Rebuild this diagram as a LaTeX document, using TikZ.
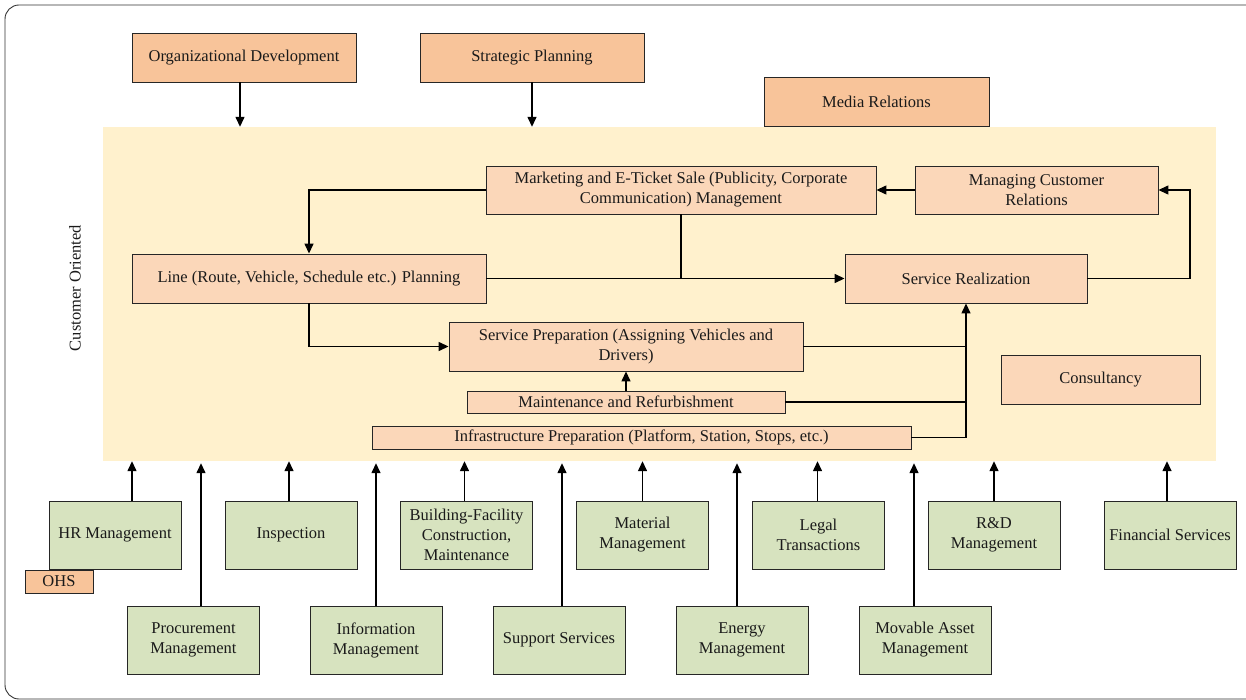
\documentclass[tikz,border=0pt]{standalone}
\usepackage{fontspec}
\setmainfont{Liberation Serif}
\usetikzlibrary{arrows.meta,calc}
\definecolor{topor}{HTML}{F8C49A}
\definecolor{peach}{HTML}{FBD7B9}
\definecolor{ylbg}{HTML}{FFF1CD}
\definecolor{grn}{HTML}{D7E3BF}
\definecolor{txt}{HTML}{1A1A1A}
\tikzset{
  base/.style={draw=black!85, line width=0.9pt, inner sep=0pt, align=center, text=txt,
    font=\fontsize{16.5}{20}\selectfont},
  topbox/.style={base, fill=topor},
  inbox/.style={base, fill=peach},
  grbox/.style={base, fill=grn, minimum width=132pt, minimum height=68pt},
  arr/.style={line width=1.4pt, -{Triangle[length=10pt,width=9pt]}},
  ln/.style={line width=1.4pt},
}
\begin{document}
\begin{tikzpicture}[x=1pt,y=-1pt]
\useasboundingbox (0,0) rectangle (1246,700);
\draw[line width=0.9pt, rounded corners=14pt, black!80] (5,5) rectangle (1262,699);
% yellow background
\node[fill=ylbg, inner sep=0pt, minimum width=1113pt, minimum height=334pt] (bg) at (659.5,294) {};
\node[rotate=90, text=txt, font=\fontsize{16.5}{20}\selectfont] (cust) at (75,288) {Customer Oriented};
% top boxes
\node[topbox, minimum width=224pt, minimum height=49pt] (orgdev) at (244,57.5) {Organizational Development};
\node[topbox, minimum width=224pt, minimum height=49pt] (strat) at (532,57.5) {Strategic Planning};
\node[topbox, minimum width=225pt, minimum height=49pt] (media) at (876.5,101.5) {Media Relations};
% inner boxes
\node[inbox, minimum width=390pt, minimum height=48pt] (mkt) at (681,190) {Marketing and E-Ticket Sale (Publicity, Corporate\\Communication) Management};
\node[inbox, minimum width=243pt, minimum height=48pt] (mcr) at (1036.5,190) {Managing Customer\\Relations};
\node[inbox, minimum width=354pt, minimum height=49pt] (line) at (309,278.5) {Line (Route, Vehicle, Schedule etc.) Planning};
\node[inbox, minimum width=242pt, minimum height=49pt] (sreal) at (966,278.5) {Service Realization};
\node[inbox, minimum width=354pt, minimum height=49pt] (sprep) at (626,346.5) {Service Preparation (Assigning Vehicles and\\Drivers)};
\node[inbox, minimum width=318pt, minimum height=22pt] (maint) at (626,402) {Maintenance and Refurbishment};
\node[inbox, minimum width=539pt, minimum height=23pt] (infra) at (641.5,437.5) {Infrastructure Preparation (Platform, Station, Stops, etc.)};
\node[inbox, minimum width=199pt, minimum height=49pt] (consult) at (1100.5,379.5) {Consultancy};
% bottom row 1
\node[grbox] (hr) at (115,535) {HR Management};
\node[grbox] (insp) at (291,535) {Inspection};
\node[grbox] (build) at (466.5,535) {Building-Facility\\Construction,\\Maintenance};
\node[grbox] (mat) at (642.5,535) {Material\\Management};
\node[grbox] (legal) at (818.5,535) {Legal\\Transactions};
\node[grbox] (rd) at (994,535) {R\&D\\Management};
\node[grbox] (fin) at (1170,535) {Financial Services};
\node[topbox, minimum width=68pt, minimum height=23pt] (ohs) at (59,581.5) {OHS};
% bottom row 2
\node[grbox] (proc) at (193.5,640) {Procurement\\Management};
\node[grbox] (info) at (376,640) {Information\\Management};
\node[grbox] (supp) at (559,640) {Support Services};
\node[grbox] (energy) at (742,640) {Energy\\Management};
\node[grbox] (mov) at (925,640) {Movable Asset\\Management};
% top arrows
\draw[arr] ([xshift=-4pt]orgdev.south) -- ([xshift=-4pt]orgdev.south |- bg.north);
\draw[arr] (strat.south) -- (strat.south |- bg.north);
% internal connectors
\coordinate (rj) at (1190,190);
\draw[arr] (mkt.west) -| (line.north);
\draw[ln] (mkt.south) -- (mkt.south |- line.east);
\draw[arr] (line.east) -- (sreal.west);
\draw[arr] (mcr.west) -- (mkt.east);
\draw[arr] (sreal.east) -- (sreal.east -| rj) |- (mcr.east);
\draw[arr] (line.south) |- (sprep.west);
\draw[ln] (sprep.east) -- (sprep.east -| sreal.south);
\draw[ln] (maint.east) -- (maint.east -| sreal.south);
\draw[arr] (infra.east) -| (sreal.south);
\draw[arr] (maint.north) -- (sprep.south);
% bottom arrows
\draw[arr] ([xshift=17pt]hr.north) -- ([xshift=17pt]hr.north |- bg.south);
\draw[arr] ([xshift=-2pt]insp.north) -- ([xshift=-2pt]insp.north |- bg.south);
\draw[arr] ([xshift=-2pt]build.north) -- ([xshift=-2pt]build.north |- bg.south);
\draw[arr] (mat.north) -- (mat.north |- bg.south);
\draw[arr] ([xshift=-1pt]legal.north) -- ([xshift=-1pt]legal.north |- bg.south);
\draw[arr] (rd.north) -- (rd.north |- bg.south);
\draw[arr] ([xshift=-3pt]fin.north) -- ([xshift=-3pt]fin.north |- bg.south);
\draw[arr] ([xshift=7.5pt]proc.north) -- ([xshift=7.5pt,yshift=-2pt]proc.north |- bg.south);
\draw[arr] (info.north) -- ([yshift=-2pt]info.north |- bg.south);
\draw[arr] ([xshift=3pt]supp.north) -- ([xshift=3pt,yshift=-2pt]supp.north |- bg.south);
\draw[arr] ([xshift=-5pt]energy.north) -- ([xshift=-5pt,yshift=-2pt]energy.north |- bg.south);
\draw[arr] ([xshift=-11pt]mov.north) -- ([xshift=-11pt,yshift=-2pt]mov.north |- bg.south);
\end{tikzpicture}
\end{document}
